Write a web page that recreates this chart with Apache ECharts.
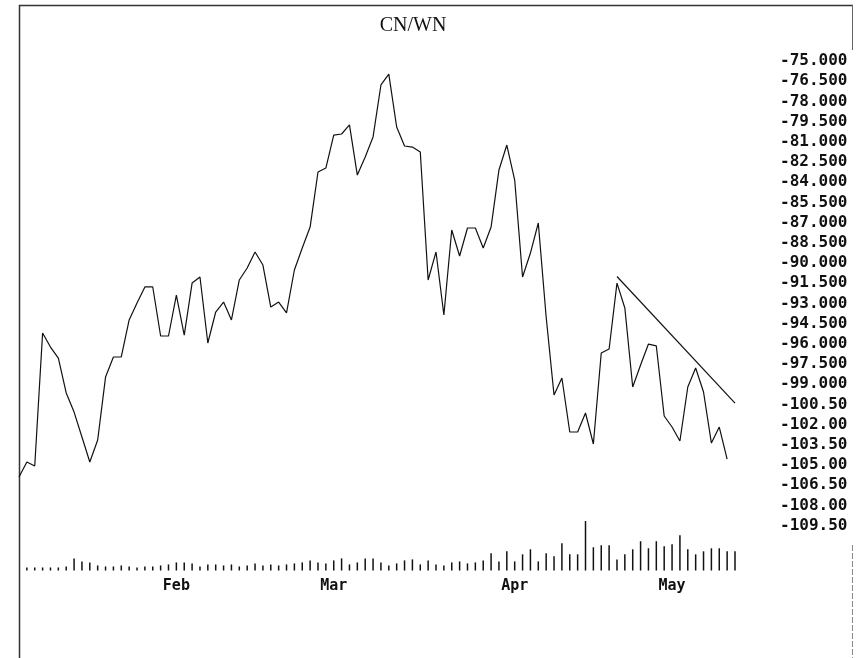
<!DOCTYPE html>
<html>
<head>
<meta charset="utf-8">
<script src="https://cdn.jsdelivr.net/npm/echarts@6/dist/echarts.min.js"></script>
<style>html,body{margin:0;padding:0;background:#fff}#c{width:865px;height:658px}</style>
</head>
<body>
<div id="c"></div>
<script>
// Daily spread values (trading-day index 0..90)
const spreadValues = [
  -105.89, -104.78, -105.08, -95.20, -96.24, -97.06, -99.65, -101.07, -102.92, -104.78,
  -103.14, -98.47, -96.98, -96.98, -94.23, -92.97, -91.78, -91.78, -95.42, -95.42,
  -92.38, -95.35, -91.49, -91.04, -95.94, -93.64, -92.90, -94.23, -91.26, -90.37,
  -89.18, -90.15, -93.27, -92.90, -93.71, -90.52, -88.89, -87.33, -83.24, -82.95,
  -80.50, -80.42, -79.75, -83.47, -82.13, -80.64, -76.78, -75.97, -79.90, -81.31,
  -81.39, -81.76, -91.26, -89.18, -93.86, -87.55, -89.48, -87.40, -87.40, -88.89,
  -87.33, -83.09, -81.24, -83.84, -91.04, -89.26, -87.03, -94.01, -99.80, -98.54,
  -102.55, -102.55, -101.14, -103.44, -96.68, -96.39, -91.49, -93.34, -99.21, -97.58,
  -96.02, -96.16, -101.36, -102.18, -103.22, -99.21, -97.80, -99.58, -103.37, -102.18,
  -104.56
];
// Volume (trading-day index 1..91)
const volumeValues = [
  3, 3, 3, 3, 3, 4,
  12, 9, 8, 5, 4, 4, 5, 4, 3, 4, 4, 5, 6, 8, 8, 7,
  4, 6, 6, 5, 6, 4, 5, 7, 5, 6, 5, 6, 7, 8, 10, 8, 7, 10,
  12, 6, 8, 12, 12, 8, 5, 7, 10, 11, 6, 10, 6, 5, 8, 9, 7, 8, 10,
  17, 9, 19, 9, 16, 21, 9, 17, 14, 27, 16, 16, 49, 23, 25, 25, 11, 16, 21, 29, 22, 29,
  24, 26, 35, 21, 16, 19, 22, 22, 19, 19
];
// Trend line end points [day index, value]
const trendLine = [[76, -91.0], [91, -100.4]];
// Month tick labels and the trading-day index where each month starts
const monthLabels = ['Feb', 'Mar', 'Apr', 'May'];
const monthStartIndex = [20, 40, 63, 83];
const titleText = 'CN/WN';

const chart = echarts.init(document.getElementById('c'), null, {renderer: 'canvas'});
const monoFont = 'DejaVu Sans Mono';

chart.setOption({
  animation: false,
  backgroundColor: '#fff',
  title: {
    text: titleText,
    left: 408,
    top: 11,
    textAlign: 'center',
    textStyle: {fontFamily: 'Liberation Serif', fontSize: 20, fontWeight: 'normal', color: '#111'}
  },
  grid: [
    {left: 19, top: 61, width: 716, height: 464.6},
    {left: 19, top: 520, width: 716, height: 50.5}
  ],
  xAxis: [
    {type: 'value', gridIndex: 0, min: 0, max: 91, show: false},
    {
      type: 'value', gridIndex: 1, min: 0, max: 91,
      axisLine: {show: false}, axisTick: {show: false}, splitLine: {show: false},
      axisLabel: {
        customValues: monthStartIndex,
        formatter: function (v) { const k = monthStartIndex.indexOf(v); return k >= 0 ? monthLabels[k] : ''; },
        fontFamily: monoFont, fontSize: 15, fontWeight: 'bold', color: '#111', margin: 8
      }
    }
  ],
  yAxis: [
    {
      type: 'value', gridIndex: 0, position: 'right', min: -109.5, max: -75, interval: 1.5,
      axisLine: {show: false}, axisTick: {show: false}, splitLine: {show: false},
      axisLabel: {
        margin: 45, align: 'left',
        formatter: function (v) { return v.toFixed(3).slice(0, 7); },
        fontFamily: monoFont, fontSize: 16, fontWeight: 'bold', color: '#111'
      }
    },
    {type: 'value', gridIndex: 1, min: 0, max: 50, show: false}
  ],
  series: [
    {
      type: 'line', xAxisIndex: 0, yAxisIndex: 0,
      data: spreadValues.map(function (v, i) { return [i, v]; }),
      showSymbol: false, lineStyle: {color: '#111', width: 1.2}
    },
    {
      type: 'line', xAxisIndex: 0, yAxisIndex: 0,
      data: trendLine,
      showSymbol: false, lineStyle: {color: '#111', width: 1.2}
    },
    {
      type: 'bar', xAxisIndex: 1, yAxisIndex: 1,
      data: volumeValues.map(function (v, i) { return [i + 1, v]; }),
      barWidth: 1.5, itemStyle: {color: '#111'}
    }
  ],
  graphic: [
    {type: 'line', shape: {x1: 19, y1: 5.5, x2: 853, y2: 5.5}, style: {stroke: '#333', lineWidth: 1.5}},
    {type: 'line', shape: {x1: 19.5, y1: 5, x2: 19.5, y2: 658}, style: {stroke: '#333', lineWidth: 1.5}},
    {type: 'line', shape: {x1: 852.5, y1: 5, x2: 852.5, y2: 50}, style: {stroke: '#666', lineWidth: 1}},
    {type: 'line', shape: {x1: 852.5, y1: 545, x2: 852.5, y2: 658}, style: {stroke: '#888', lineWidth: 1, lineDash: [6, 2]}}
  ]
});
</script>
</body>
</html>
